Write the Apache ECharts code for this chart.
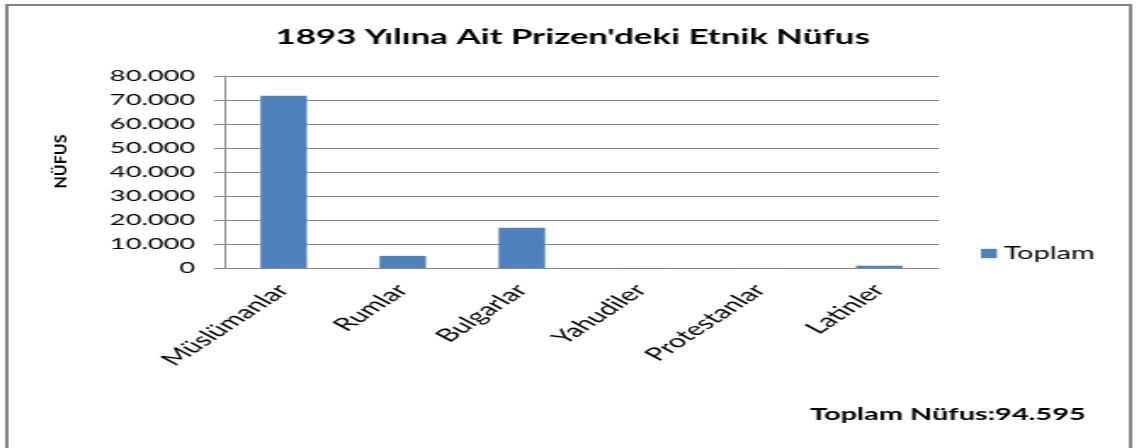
<!DOCTYPE html>
<html>
<head>
<meta charset="utf-8">
<script src="https://cdn.jsdelivr.net/npm/echarts@6/dist/echarts.min.js"></script>
<style>
  html, body { margin: 0; padding: 0; background: #fff; overflow: hidden; }
  /* the reference is a horizontally stretched spreadsheet chart */
  #chart { width: 670.6px; height: 448px; transform: scaleX(1.7); transform-origin: 0 0; }
</style>
</head>
<body>
<div id="chart"></div>
<script>
const categories = ['Müslümanlar', 'Rumlar', 'Bulgarlar', 'Yahudiler', 'Protestanlar', 'Latinler']
const toplam = [71790, 5050, 16750, 40, 15, 950]
const yTicks = [0, 10000, 20000, 30000, 40000, 50000, 60000, 70000, 80000]

const fmt = (v) => String(v).replace(/\B(?=(\d{3})+(?!\d))/g, '.')
const total = toplam.reduce((a, b) => a + b, 0)
const font = 'Lato'
const grey = '#868686'

const chart = echarts.init(document.getElementById('chart'))
chart.setOption({
  animation: false,
  textStyle: { fontFamily: font },
  title: {
    text: "1893 Yılına Ait Prizen'deki Etnik Nüfus",
    left: 157,
    top: 22,
    textStyle: { fontFamily: font, fontSize: 20.5, fontWeight: 'bold', color: '#000', lineHeight: 21 }
  },
  legend: {
    data: ['Toplam'],
    left: 572,
    top: 240,
    itemWidth: 9.4,
    itemHeight: 9.3,
    icon: 'rect',
    textStyle: { fontFamily: font, fontSize: 17, color: '#000', padding: [0, 0, 0, -1] }
  },
  grid: {
    left: 131.8,
    right: 118.8,
    top: 76,
    bottom: 180
  },
  xAxis: {
    type: 'category',
    data: categories,
    axisLine: { lineStyle: { color: grey, width: 1 } },
    axisTick: { show: false },
    axisLabel: {
      interval: 0,
      rotate: 48,
      margin: 19,
      color: '#000',
      fontFamily: font,
      fontSize: 18
    }
  },
  yAxis: {
    type: 'value',
    min: yTicks[0],
    max: yTicks[yTicks.length - 1],
    interval: yTicks[1] - yTicks[0],
    axisLine: { show: true, lineStyle: { color: grey, width: 1 } },
    axisTick: { show: true, length: 6, lineStyle: { color: grey } },
    splitLine: { lineStyle: { color: grey, width: 1 } },
    axisLabel: {
      margin: 17,
      color: '#000',
      fontFamily: font,
      fontSize: 16,
      formatter: fmt
    }
  },
  graphic: [
    {
      type: 'rect',
      shape: { x: 4, y: 5, width: 661, height: 460 },
      style: { fill: 'none', stroke: grey, lineWidth: 2 },
      silent: true
    },
    {
      // axis title: rotated group, text squeezed across its height so it
      // keeps its shape after the page stretch
      type: 'group',
      x: 36.5,
      y: 161.5,
      rotation: Math.PI / 2,
      children: [{
        type: 'text',
        scaleY: 0.57,
        style: {
          text: 'NÜFUS',
          fontFamily: font,
          fontSize: 16,
          fontWeight: 'bold',
          fill: '#000',
          align: 'center',
          verticalAlign: 'middle'
        }
      }]
    },
    {
      type: 'text',
      x: 476.5,
      y: 415,
      style: {
        text: 'Toplam Nüfus:' + fmt(total),
        fontFamily: font,
        fontSize: 17,
        fontWeight: 'bold',
        fill: '#000',
        align: 'left',
        verticalAlign: 'middle'
      }
    }
  ],
  series: [{
    name: 'Toplam',
    type: 'bar',
    barWidth: '39%',
    data: toplam,
    itemStyle: { color: '#4F81BD' }
  }]
})
</script>
</body>
</html>
